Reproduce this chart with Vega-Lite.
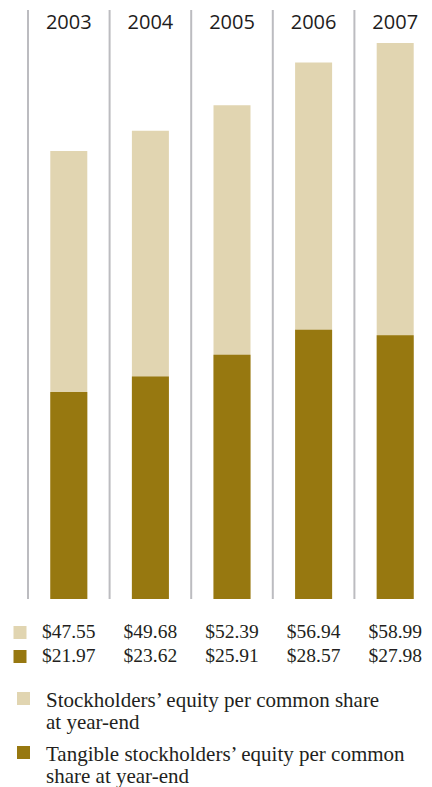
{
  "$schema": "https://vega.github.io/schema/vega-lite/v6.json",
  "padding": {"left": 0, "top": 9, "right": 0, "bottom": 0},
  "background": "white",
  "config": {
    "view": {"stroke": null},
    "concat": {"spacing": 20}
  },
  "data": {
    "values": [
      {"year": "2003", "equity": 47.55, "tangible": 21.97},
      {"year": "2004", "equity": 49.68, "tangible": 23.62},
      {"year": "2005", "equity": 52.39, "tangible": 25.91},
      {"year": "2006", "equity": 56.94, "tangible": 28.57},
      {"year": "2007", "equity": 58.99, "tangible": 27.98}
    ]
  },
  "vconcat": [
    {
      "width": 432,
      "height": 589,
      "layer": [
        {
          "mark": {"type": "rule", "stroke": "#bcbcc0", "strokeWidth": 2},
          "encoding": {
            "x": {
              "field": "year", "type": "ordinal", "bandPosition": 0,
              "scale": {"type": "band", "range": [28, 436], "paddingInner": 0, "paddingOuter": 0},
              "axis": {
                "orient": "top", "title": null, "domain": false, "ticks": false, "tickSize": 0,
                "grid": false, "labelAngle": 0, "labelPadding": -18, "labelBaseline": "alphabetic",
                "labelFont": "Open Sans", "labelFontSize": 20, "labelFontWeight": 500, "labelColor": "#1e1c1c"
              }
            }
          }
        },
        {
          "transform": [{"fold": ["equity", "tangible"], "as": ["measure", "value"]}],
          "mark": {"type": "bar", "size": 37},
          "encoding": {
            "x": {"field": "year", "type": "ordinal"},
            "y": {
              "field": "value", "type": "quantitative", "stack": null,
              "scale": {"domain": [0, 62.5], "nice": false}, "axis": null
            },
            "color": {
              "field": "measure", "type": "nominal",
              "scale": {"domain": ["equity", "tangible"], "range": ["#e1d5b1", "#977810"]},
              "legend": {
                "orient": "none", "legendX": 13, "legendY": 678, "direction": "vertical",
                "title": null, "padding": 0, "symbolType": "square", "symbolSize": 169,
                "symbolStrokeWidth": 0, "symbolOpacity": 1, "labelOffset": 12, "labelLimit": 420,
                "rowPadding": 9,
                "labelFont": "Liberation Serif", "labelFontSize": 21, "labelColor": "#231f20",
                "labelBaseline": "alphabetic",
                "labelExpr": "datum.value === 'equity' ? ['Stockholders’ equity per common share', 'at year-end'] : ['Tangible stockholders’ equity per common', 'share at year-end']",
                "encode": {"labels": {"update": {"dy": {"value": 8}, "lineHeight": {"value": 22}}}}
              }
            }
          }
        }
      ]
    },
    {
      "width": 432,
      "height": 48,
      "transform": [{"fold": ["equity", "tangible"], "as": ["measure", "value"]}],
      "mark": {"type": "text", "font": "Liberation Serif", "fontSize": 19.5, "color": "#231f20", "align": "center", "baseline": "middle"},
      "encoding": {
        "x": {
          "field": "year", "type": "ordinal",
          "scale": {"type": "band", "range": [28, 436], "paddingInner": 0, "paddingOuter": 0},
          "axis": null
        },
        "y": {
          "field": "measure", "type": "nominal",
          "scale": {"type": "band", "domain": ["equity", "tangible"], "paddingInner": 0, "paddingOuter": 0},
          "axis": {
            "orient": "left", "offset": -26, "title": null, "labels": false, "domain": false, "grid": false,
            "ticks": true, "tickSize": 13, "tickWidth": 13,
            "tickColor": {"condition": {"test": "datum.value === 'equity'", "value": "#e1d5b1"}, "value": "#977810"}
          }
        },
        "text": {"field": "value", "type": "quantitative", "format": "$.2f"}
      }
    }
  ]
}
